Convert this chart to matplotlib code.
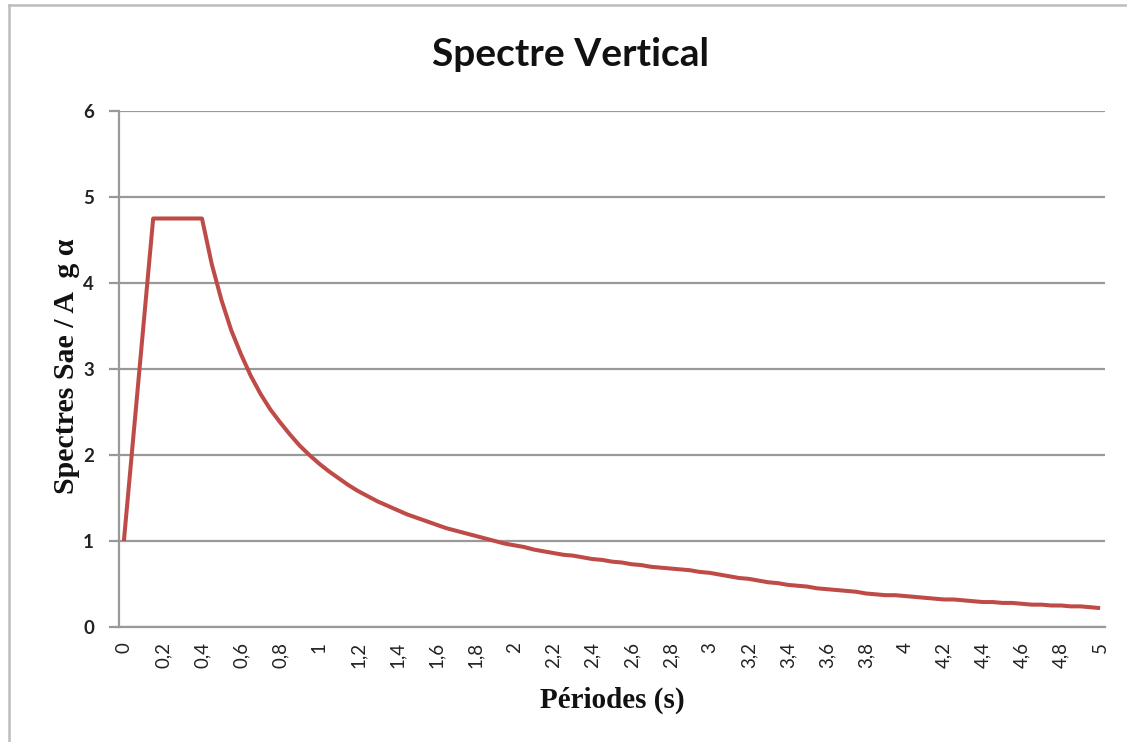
import matplotlib
matplotlib.use("Agg")
import matplotlib.pyplot as plt
from matplotlib.lines import Line2D

# Périodes (s), pas de 0,05 s
periods = [round(0.05 * i, 2) for i in range(101)]

# Spectre vertical normalisé Sae / (A g α)
spectrum = [
    1.00, 2.25, 3.50, 4.75, 4.75, 4.75, 4.75, 4.75, 4.75, 4.22,
    3.80, 3.45, 3.17, 2.92, 2.71, 2.53, 2.38, 2.24, 2.11, 2.00,
    1.90, 1.81, 1.73, 1.65, 1.58, 1.52, 1.46, 1.41, 1.36, 1.31,
    1.27, 1.23, 1.19, 1.15, 1.12, 1.09, 1.06, 1.03, 1.00, 0.97,
    0.95, 0.93, 0.90, 0.88, 0.86, 0.84, 0.83, 0.81, 0.79, 0.78,
    0.76, 0.75, 0.73, 0.72, 0.70, 0.69, 0.68, 0.67, 0.66, 0.64,
    0.63, 0.61, 0.59, 0.57, 0.56, 0.54, 0.52, 0.51, 0.49, 0.48,
    0.47, 0.45, 0.44, 0.43, 0.42, 0.41, 0.39, 0.38, 0.37, 0.37,
    0.36, 0.35, 0.34, 0.33, 0.32, 0.32, 0.31, 0.30, 0.29, 0.29,
    0.28, 0.28, 0.27, 0.26, 0.26, 0.25, 0.25, 0.24, 0.24, 0.23,
    0.22,
]

x_tick_labels = ["0", "0,2", "0,4", "0,6", "0,8", "1", "1,2", "1,4", "1,6", "1,8",
                 "2", "2,2", "2,4", "2,6", "2,8", "3", "3,2", "3,4", "3,6", "3,8",
                 "4", "4,2", "4,4", "4,6", "4,8", "5"]
y_ticks = [0, 1, 2, 3, 4, 5, 6]

W, H = 1127, 742
fig = plt.figure(figsize=(W / 100, H / 100), dpi=100)
fig.patch.set_facecolor("white")

# Cadre du graphique
frame_kw = dict(color="#BDBDBD", lw=1.8, transform=fig.transFigure)
fig.add_artist(Line2D([9 / W, 1.0], [1 - 5 / H, 1 - 5 / H], **frame_kw))
fig.add_artist(Line2D([9 / W, 9 / W], [0.0, 1 - 5 / H], **frame_kw))

left, right, top, bottom = 119, 1105, 111, 627
ax = fig.add_axes([left / W, 1 - bottom / H, (right - left) / W, (bottom - top) / H])

idx = list(range(len(periods)))
ax.plot(idx, spectrum, color="#BE4B48", lw=2.9, solid_joinstyle="round",
        solid_capstyle="butt", zorder=3)

ax.set_xlim(-0.5, len(periods) - 0.5)
ax.set_ylim(0, 6)

ax.set_xticks(idx[::4])
ax.set_xticklabels(x_tick_labels, rotation=90, va="top", ha="center",
                   family="Lato", fontsize=13.5, color="#222222")
ax.tick_params(axis="x", length=0, pad=11)

ax.set_yticks(y_ticks)
ax.set_yticklabels([str(v) for v in y_ticks], family="Lato", fontweight="bold",
                   fontsize=13.5, color="#222222")
ax.tick_params(axis="y", length=7, width=1.6, color="#999999", pad=11)

ax.grid(axis="y", color="#999999", lw=1.6, zorder=0)
for s in ("top", "right"):
    ax.spines[s].set_visible(False)
for s in ("left", "bottom"):
    ax.spines[s].set_color("#999999")
    ax.spines[s].set_linewidth(1.6)

fig.text(570 / W, 1 - 55 / H, "Spectre Vertical", ha="center", va="center",
         family="Lato", fontweight="bold", fontsize=28, color="#111111")
fig.text(66 / W, 1 - 366 / H, "Spectres Sae / A  g \u03b1", ha="center", va="center",
         rotation=90, family="Liberation Serif", fontweight="bold", fontsize=21.5,
         color="#111111")
fig.text(612 / W, 1 - 700 / H, "Périodes (s)", ha="center", va="center",
         family="Liberation Serif", fontweight="bold", fontsize=21, color="#111111")

fig.savefig("out.png", dpi=100, facecolor="white")
